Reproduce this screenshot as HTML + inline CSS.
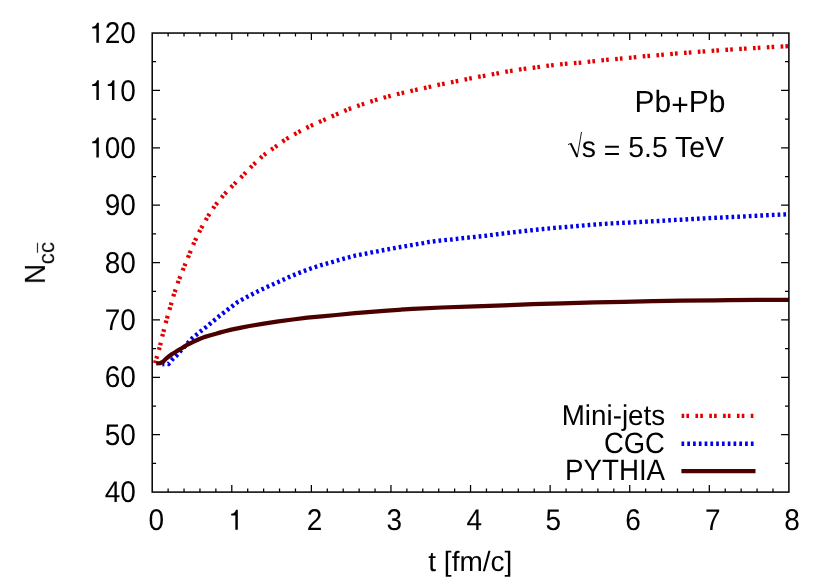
<!DOCTYPE html>
<html><head><meta charset="utf-8"><title>N_cc vs t</title>
<style>
html,body{margin:0;padding:0;background:#fff;}
body{width:830px;height:581px;overflow:hidden;}
svg{display:block;}
text{font-family:"Liberation Sans",sans-serif;fill:#000;text-rendering:geometricPrecision;}
</style></head><body>
<svg width="830" height="581" viewBox="0 0 830 581">
<rect x="0" y="0" width="830" height="581" fill="#ffffff"/>
<g style="opacity:0.999">
<text transform="translate(156.25 529.90) scale(1.000 1.070)" font-size="28.00" text-anchor="middle">0</text>
<path d="M235.34 529.70L235.34 515.56L231.17 515.56L231.17 513.85C233.77 513.60 235.09 512.76 236.04 509.85L237.81 509.85L237.81 529.70Z" fill="#000"/>
<text transform="translate(314.62 529.90) scale(1.000 1.070)" font-size="28.00" text-anchor="middle">2</text>
<text transform="translate(394.21 529.90) scale(1.000 1.070)" font-size="28.00" text-anchor="middle">3</text>
<text transform="translate(474.20 529.90) scale(1.000 1.070)" font-size="28.00" text-anchor="middle">4</text>
<text transform="translate(553.39 529.90) scale(1.000 1.070)" font-size="28.00" text-anchor="middle">5</text>
<text transform="translate(633.07 529.90) scale(1.000 1.070)" font-size="28.00" text-anchor="middle">6</text>
<text transform="translate(712.66 529.90) scale(1.000 1.070)" font-size="28.00" text-anchor="middle">7</text>
<text transform="translate(792.15 529.90) scale(1.000 1.070)" font-size="28.00" text-anchor="middle">8</text>
<text transform="translate(135.90 502.20) scale(1.000 1.070)" font-size="28.00" text-anchor="end">40</text>
<text transform="translate(135.90 444.82) scale(1.000 1.070)" font-size="28.00" text-anchor="end">50</text>
<text transform="translate(135.90 387.44) scale(1.000 1.070)" font-size="28.00" text-anchor="end">60</text>
<text transform="translate(135.90 330.06) scale(1.000 1.070)" font-size="28.00" text-anchor="end">70</text>
<text transform="translate(135.90 272.68) scale(1.000 1.070)" font-size="28.00" text-anchor="end">80</text>
<text transform="translate(135.90 215.29) scale(1.000 1.070)" font-size="28.00" text-anchor="end">90</text>
<text transform="translate(135.90 157.91) scale(1.000 1.070)" font-size="28.00" text-anchor="end">00</text>
<path d="M96.38 157.41L96.38 143.27L92.21 143.27L92.21 141.56C94.82 141.31 96.13 140.47 97.08 137.56L98.85 137.56L98.85 157.41Z" fill="#000"/>
<text transform="translate(135.90 100.53) scale(1.000 1.070)" font-size="28.00" text-anchor="end">0</text>
<path d="M96.38 100.03L96.38 85.89L92.21 85.89L92.21 84.18C94.82 83.93 96.13 83.09 97.08 80.18L98.85 80.18L98.85 100.03Z" fill="#000"/>
<path d="M111.95 100.03L111.95 85.89L107.78 85.89L107.78 84.18C110.38 83.93 111.70 83.09 112.65 80.18L114.42 80.18L114.42 100.03Z" fill="#000"/>
<text transform="translate(135.90 43.15) scale(1.000 1.070)" font-size="28.00" text-anchor="end">20</text>
<path d="M96.38 42.65L96.38 28.51L92.21 28.51L92.21 26.80C94.82 26.55 96.13 25.71 97.08 22.80L98.85 22.80L98.85 42.65Z" fill="#000"/>
<text transform="translate(470.30 570.80) scale(1.000 1.000)" font-size="28.00" text-anchor="middle">t [fm/c]</text>
<text transform="translate(725.50 111.70) scale(1.000 1.020)" font-size="30.00" text-anchor="end">Pb<tspan dy="3.2">+</tspan><tspan dy="-3.2">Pb</tspan></text>
<text transform="translate(724.00 157.20) scale(1.000 1.030)" font-size="28.40" text-anchor="end">s <tspan dy="2.8">=</tspan><tspan dy="-2.8"> 5.5 TeV</tspan></text>
<text transform="translate(665.10 424.90) scale(0.992 1.020)" font-size="28.00" text-anchor="end">Mini-jets</text>
<text transform="translate(664.90 452.90) scale(0.980 1.050)" font-size="28.00" text-anchor="end">CGC</text>
<text transform="translate(665.10 480.20) scale(0.990 1.050)" font-size="28.00" text-anchor="end">PYTHIA</text>
<g transform="translate(44.9,284.1) rotate(-90)"><text transform="translate(0.00 0.00) scale(1.000 1.035)" font-size="28.00" text-anchor="start">N</text><text transform="translate(19.80 9.10) scale(1.000 1.000)" font-size="22.40" text-anchor="start">cc</text><path d="M31.3 -7.4h10" stroke="#000" stroke-width="1" fill="none"/></g>
<path d="M568.0 144.6l2.7 -1.2" stroke="#000" stroke-width="0.9" fill="none"/><path d="M570.7 143.4l6.5 13.6" stroke="#000" stroke-width="2.0" fill="none"/><path d="M577.2 157.0l4.3 -25" stroke="#000" stroke-width="0.9" fill="none"/>
</g>
<polyline points="155.0,363.3 156.0,359.9 159.8,346.9 163.0,333.4 166.5,320.2 170.4,306.5 174.3,293.2 178.8,280.2 183.9,267.5 189.2,254.5 194.4,241.9 200.6,229.3 207.5,217.0 215.0,205.5 223.9,194.8 233.3,185.0 242.9,175.5 252.2,165.8 262.6,156.0 273.9,147.8 285.0,139.8 297.0,132.9 309.3,126.5 322.1,120.7 334.6,115.2 347.4,109.6 360.3,105.0 373.5,100.7 386.8,96.8 400.3,93.4 413.8,90.3 427.3,87.4 440.7,84.3 454.5,81.6 467.8,79.0 481.3,76.3 494.9,73.9 508.7,71.3 522.4,69.1 536.1,67.4 549.9,65.5 563.6,64.0 577.5,62.9 591.2,61.5 604.9,60.0 618.7,58.7 632.4,57.6 646.1,56.1 660.0,55.0 673.7,53.7 687.5,52.7 701.2,51.6 714.9,50.6 728.7,49.7 742.4,48.8 756.3,48.0 770.0,47.1 784.0,46.4 788.9,46.1" fill="none" stroke="#e40000" stroke-width="4.3" stroke-dasharray="2.65 2.15 2.65 6.38" stroke-dashoffset="-0.12"/>
<polyline points="162.3,364.2 168.4,364.0 172.8,359.0 177.1,354.9 192.6,337.9 197.2,334.1 201.7,330.5 206.3,326.9 209.8,324.0 218.8,316.5 228.2,309.3 237.6,302.0 247.4,296.7 257.5,291.5 267.9,286.6 278.8,281.8 288.9,277.1 299.8,272.6 310.8,268.5 322.0,264.8 332.8,261.9 344.0,258.6 355.1,255.7 366.4,253.5 377.5,251.3 388.8,249.2 400.4,247.0 411.6,245.1 423.2,243.1 428.7,242.0 439.9,240.6 451.3,239.5 462.9,238.1 474.4,237.0 486.0,235.7 497.6,234.2 508.9,232.8 520.4,231.5 532.0,230.2 543.3,229.0 554.5,227.9 566.0,227.0 577.6,226.0 589.2,225.0 600.4,224.1 612.0,223.4 623.6,222.8 635.1,222.2 646.7,221.6 658.3,221.0 669.5,220.3 681.0,219.7 692.6,219.0 704.2,218.4 715.7,217.8 727.3,217.2 738.9,216.7 750.1,216.1 761.7,215.5 773.5,214.9 788.9,214.2" fill="none" stroke="#0000ee" stroke-width="4.4" stroke-dasharray="2.7 3.066" stroke-dashoffset="0.6"/>
<polyline points="156.2,363.3 160.0,363.2 163.1,361.8 166.1,358.6 169.1,356.3 172.1,354.0 175.1,352.3 178.1,350.4 181.7,348.2 187.2,344.8 193.2,341.9 198.8,339.3 204.2,337.1 209.6,335.5 215.1,334.0 220.5,332.4 225.9,331.0 231.3,329.6 240.0,327.8 249.5,326.0 263.9,323.7 278.4,321.3 292.8,319.5 307.3,317.7 321.7,316.3 336.2,315.0 355.0,313.2 383.9,310.8 412.8,308.9 441.7,307.5 475.0,306.4 503.9,305.3 532.8,304.2 561.7,303.3 595.0,302.4 623.9,301.8 652.8,301.2 681.7,300.7 715.0,300.3 728.9,300.2 757.8,299.9 788.9,299.8" fill="none" stroke="#4b0000" stroke-width="4.25" stroke-linejoin="round"/>
<path d="M168.12 492.10v-3.55M168.12 33.05v3.55M184.03 492.10v-3.55M184.03 33.05v3.55M199.95 492.10v-3.55M199.95 33.05v3.55M215.87 492.10v-3.55M215.87 33.05v3.55M231.79 492.10v-7.05M231.79 33.05v7.05M247.71 492.10v-3.55M247.71 33.05v3.55M263.62 492.10v-3.55M263.62 33.05v3.55M279.54 492.10v-3.55M279.54 33.05v3.55M295.46 492.10v-3.55M295.46 33.05v3.55M311.38 492.10v-7.05M311.38 33.05v7.05M327.29 492.10v-3.55M327.29 33.05v3.55M343.21 492.10v-3.55M343.21 33.05v3.55M359.13 492.10v-3.55M359.13 33.05v3.55M375.05 492.10v-3.55M375.05 33.05v3.55M390.96 492.10v-7.05M390.96 33.05v7.05M406.88 492.10v-3.55M406.88 33.05v3.55M422.80 492.10v-3.55M422.80 33.05v3.55M438.72 492.10v-3.55M438.72 33.05v3.55M454.63 492.10v-3.55M454.63 33.05v3.55M470.55 492.10v-7.05M470.55 33.05v7.05M486.47 492.10v-3.55M486.47 33.05v3.55M502.39 492.10v-3.55M502.39 33.05v3.55M518.30 492.10v-3.55M518.30 33.05v3.55M534.22 492.10v-3.55M534.22 33.05v3.55M550.14 492.10v-7.05M550.14 33.05v7.05M566.06 492.10v-3.55M566.06 33.05v3.55M581.97 492.10v-3.55M581.97 33.05v3.55M597.89 492.10v-3.55M597.89 33.05v3.55M613.81 492.10v-3.55M613.81 33.05v3.55M629.73 492.10v-7.05M629.73 33.05v7.05M645.64 492.10v-3.55M645.64 33.05v3.55M661.56 492.10v-3.55M661.56 33.05v3.55M677.48 492.10v-3.55M677.48 33.05v3.55M693.39 492.10v-3.55M693.39 33.05v3.55M709.31 492.10v-7.05M709.31 33.05v7.05M725.23 492.10v-3.55M725.23 33.05v3.55M741.15 492.10v-3.55M741.15 33.05v3.55M757.07 492.10v-3.55M757.07 33.05v3.55M772.98 492.10v-3.55M772.98 33.05v3.55M152.20 463.41h3.90M788.90 463.41h-3.90M152.20 434.72h7.80M788.90 434.72h-7.80M152.20 406.03h3.90M788.90 406.03h-3.90M152.20 377.34h7.80M788.90 377.34h-7.80M152.20 348.65h3.90M788.90 348.65h-3.90M152.20 319.96h7.80M788.90 319.96h-7.80M152.20 291.27h3.90M788.90 291.27h-3.90M152.20 262.58h7.80M788.90 262.58h-7.80M152.20 233.88h3.90M788.90 233.88h-3.90M152.20 205.19h7.80M788.90 205.19h-7.80M152.20 176.50h3.90M788.90 176.50h-3.90M152.20 147.81h7.80M788.90 147.81h-7.80M152.20 119.12h3.90M788.90 119.12h-3.90M152.20 90.43h7.80M788.90 90.43h-7.80M152.20 61.74h3.90M788.90 61.74h-3.90" stroke="#000" stroke-width="1.25" fill="none"/>
<rect x="152.20" y="33.05" width="636.70" height="459.05" fill="none" stroke="#000" stroke-width="1.50"/>
<path d="M681.6 415.9H755.5" stroke="#e40000" stroke-width="4.3" stroke-dasharray="2.65 2.15 2.65 6.38" fill="none"/>
<path d="M681.5 443.7H755.5" stroke="#0000ee" stroke-width="4.4" stroke-dasharray="2.7 3.08" fill="none"/>
<path d="M681.4 471.1H755.5" stroke="#4b0000" stroke-width="4.4" fill="none"/>
</svg>
</body></html>
